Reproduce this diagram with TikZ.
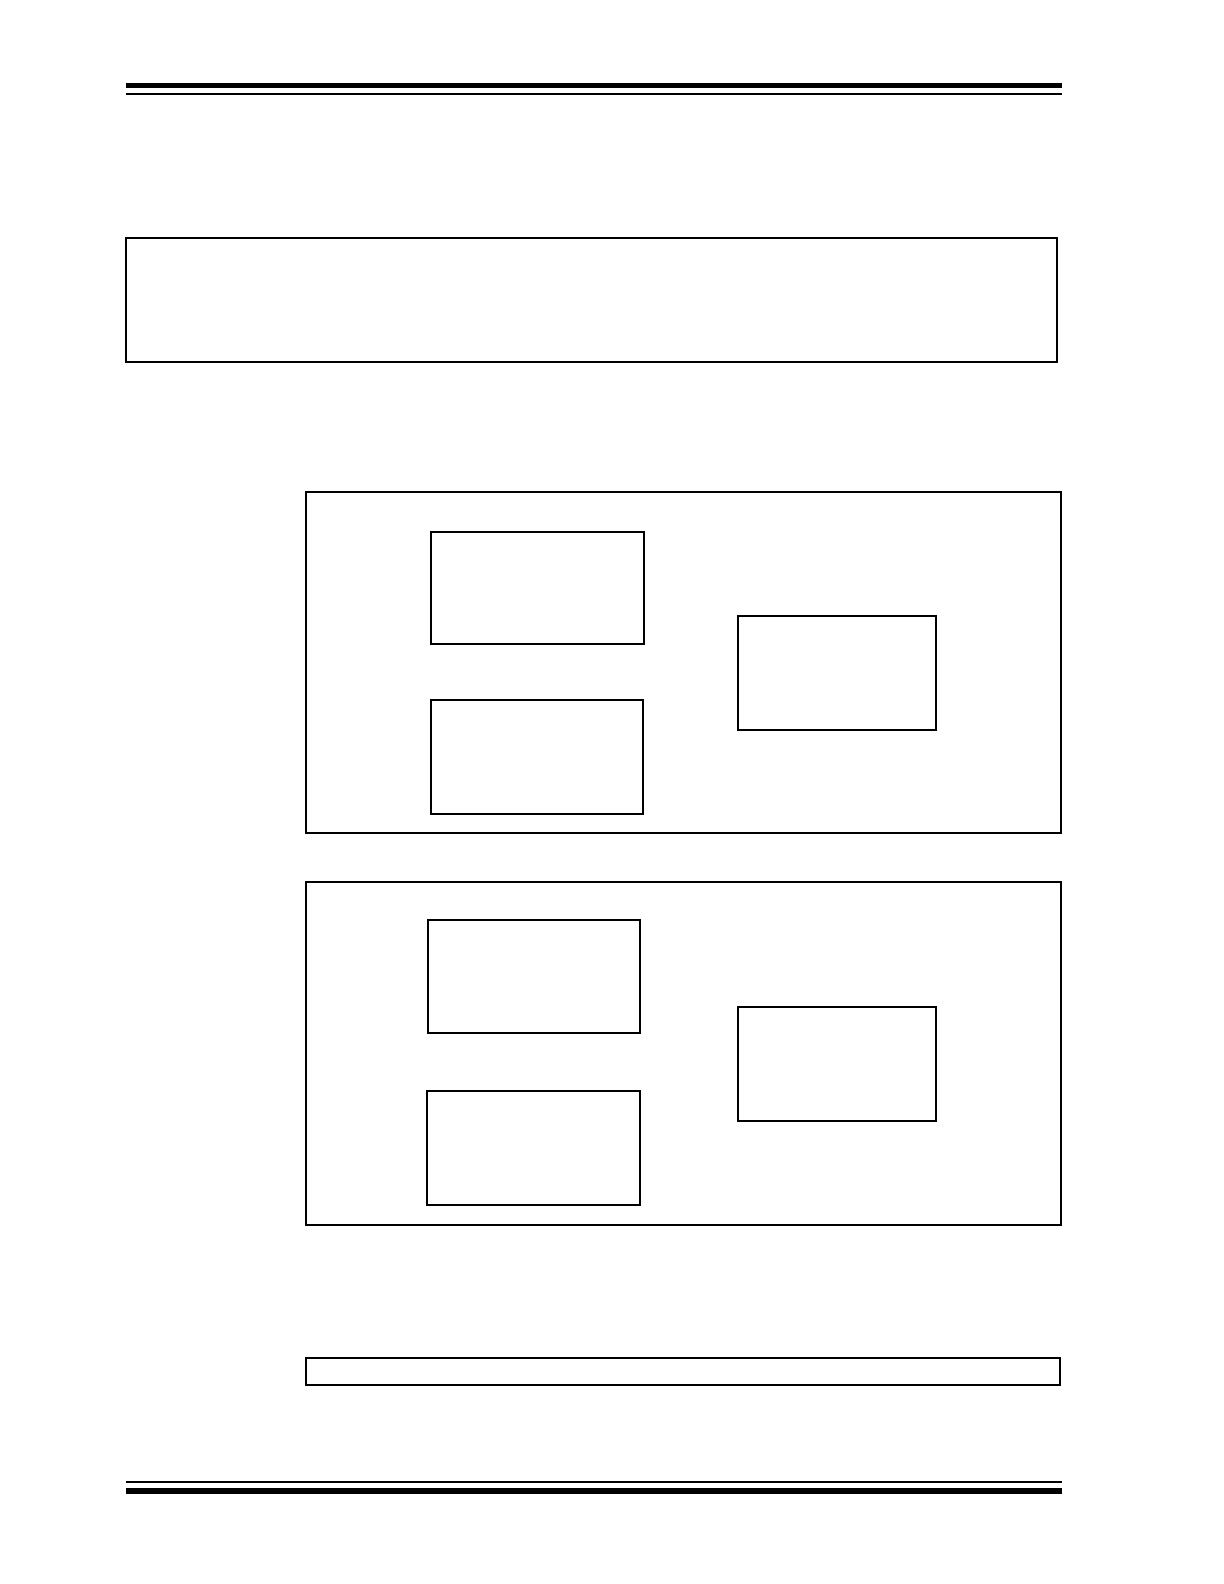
\documentclass[tikz,border=0pt]{standalone}
\usetikzlibrary{fit}
\begin{document}
\begin{tikzpicture}[x=0.5pt,y=-0.5pt,
  box/.style={draw=black,line width=0.6pt,inner sep=0pt,outer sep=0pt,rectangle},
  rulebar/.style={fill=black,draw=none}]
\useasboundingbox (0,0) rectangle (1224,1584);
\fill[white] (0,0) rectangle (1224,1584);
% header rules
\fill[rulebar] (126,83) rectangle (1062,88.5);
\fill[rulebar] (126,93) rectangle (1062,95);
% footer rules
\fill[rulebar] (126,1481) rectangle (1062,1483);
\fill[rulebar] (126,1488) rectangle (1062,1494);
% top wide box
\node[box,fit={(126,238) (1057,362)}] (topbox) {};
% first panel
\node[box,fit={(306,492) (1061,833)}] (panelA) {};
\node[box,fit={(431,532) (644,644)}] (a1) {};
\node[box,fit={(431,700) (643,814)}] (a2) {};
\node[box,fit={(738,616) (936,730)}] (a3) {};
% second panel
\node[box,fit={(306,882) (1061,1225)}] (panelB) {};
\node[box,fit={(428,920) (640,1033)}] (b1) {};
\node[box,fit={(427,1091) (640,1205)}] (b2) {};
\node[box,fit={(738,1007) (936,1121)}] (b3) {};
% bottom strip
\node[box,fit={(306,1358) (1060,1385)}] (strip) {};
\end{tikzpicture}
\end{document}
